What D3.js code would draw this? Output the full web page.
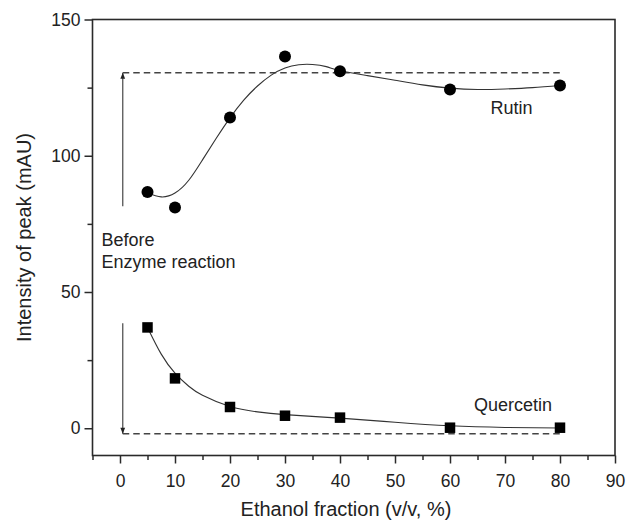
<!DOCTYPE html>
<html>
<head>
<meta charset="utf-8">
<script src="https://cdn.jsdelivr.net/npm/d3@7"></script>
<style>
  html, body { margin: 0; padding: 0; background: #fff; }
  svg { display: block; }
  text { font-family: "Liberation Sans", Arial, Helvetica, sans-serif; fill: #222; }
</style>
</head>
<body>
<svg id="chart" width="627" height="522"></svg>
<script>
// ---- Data ----
const ethanol = [5, 10, 20, 30, 40, 60, 80];
const rutin = [86.7, 81.0, 114.0, 136.4, 131.0, 124.3, 125.8];
const quercetin = [37.0, 18.3, 7.8, 4.6, 3.9, 0.2, 0.2];

// fitted curves
const rutinFitX = [5, 7.5, 10, 12.5, 15, 17.5, 20, 22.5, 25, 27.5, 30, 32.5, 35, 37.5, 40, 45, 50, 55, 60, 65, 70, 75, 80];
const rutinFitY = [86.3, 84.9, 86.3, 91.0, 98.5, 106.4, 113.9, 120.4, 125.6, 129.6, 132.2, 133.4, 133.5, 132.7, 131.2, 129.4, 127.7, 126.0, 124.8, 124.3, 124.5, 125.0, 125.8];
const quercetinFitX = [5, 7.5, 10, 12.5, 15, 20, 25, 30, 40, 50, 60, 70, 80];
const quercetinFitY = [37.0, 27.2, 20.2, 15.4, 12.1, 8.0, 6.0, 5.0, 3.7, 2.2, 0.9, 0.3, 0.1];

// "before enzyme reaction" reference levels
const rutinBefore = 130.5;
const quercetinBefore = -2.0;
const beforeRangeX = [0.5, 80];
const rutinArrowFromY = 81.5;
const quercetinArrowFromY = 38.5;

const xTicks = [0, 10, 20, 30, 40, 50, 60, 70, 80, 90];
const xMinorTicks = [-5, 5, 15, 25, 35, 45, 55, 65, 75, 85];
const yTicks = [0, 50, 100, 150];
const yMinorTicks = [25, 75, 125];

const xTitle = "Ethanol fraction (v/v, %)";
const yTitle = "Intensity of peak (mAU)";

// ---- Layout ----
const svg = d3.select("#chart");
const L = 92.5, R = 615, T = 19.5, B = 455.5;
const x = d3.scaleLinear().domain([-5, 90]).range([L, R]);
const y = d3.scaleLinear().domain([-10, 150]).range([B, T]);
const axisColor = "#2a2a2a";

// box
svg.append("rect").attr("x", L).attr("y", T).attr("width", R - L).attr("height", B - T)
  .attr("fill", "none").attr("stroke", axisColor).attr("stroke-width", 1.6);

// x axis
const gx = svg.append("g").attr("transform", `translate(0,${B})`)
  .call(d3.axisBottom(x).tickValues(xTicks).tickSize(8).tickPadding(11).tickFormat(d3.format("d")));
const gxm = svg.append("g").attr("transform", `translate(0,${B})`)
  .call(d3.axisBottom(x).tickValues(xMinorTicks).tickSize(4.5).tickFormat(""));
// y axis
const gy = svg.append("g").attr("transform", `translate(${L},0)`)
  .call(d3.axisLeft(y).tickValues(yTicks).tickSize(8).tickPadding(4).tickFormat(d3.format("d")));
const gym = svg.append("g").attr("transform", `translate(${L},0)`)
  .call(d3.axisLeft(y).tickValues(yMinorTicks).tickSize(5).tickFormat(""));

[gx, gxm, gy, gym].forEach(g => {
  g.select(".domain").remove();
  g.selectAll("line").attr("stroke", axisColor).attr("stroke-width", 1.5);
  g.selectAll("text").attr("font-family", "Liberation Sans, Arial, sans-serif")
    .attr("font-size", 17.5).attr("fill", "#222");
});

// axis titles
svg.append("text").attr("x", 346).attr("y", 516).attr("text-anchor", "middle")
  .attr("font-size", 20).text(xTitle);
svg.append("text").attr("transform", `translate(31,${(T + B) / 2}) rotate(-90)`)
  .attr("text-anchor", "middle").attr("font-size", 20).text(yTitle);

// arrow markers
const defs = svg.append("defs");
defs.append("marker").attr("id", "ah").attr("viewBox", "0 0 10 10")
  .attr("refX", 10).attr("refY", 5).attr("markerWidth", 7).attr("markerHeight", 6)
  .attr("markerUnits", "userSpaceOnUse").attr("orient", "auto")
  .append("path").attr("d", "M0,1 L10,5 L0,9 Z").attr("fill", "#222");

const dashColor = "#444";
// dashed "before" levels
[rutinBefore, quercetinBefore].forEach(v => {
  svg.append("line").attr("x1", x(beforeRangeX[0])).attr("x2", x(beforeRangeX[1]))
    .attr("y1", y(v)).attr("y2", y(v))
    .attr("stroke", dashColor).attr("stroke-width", 1.5).attr("stroke-dasharray", "6.5,4");
});
// arrows
svg.append("line").attr("x1", x(beforeRangeX[0])).attr("x2", x(beforeRangeX[0]))
  .attr("y1", y(rutinArrowFromY)).attr("y2", y(rutinBefore))
  .attr("stroke", "#555").attr("stroke-width", 1.3).attr("marker-end", "url(#ah)");
svg.append("line").attr("x1", x(beforeRangeX[0])).attr("x2", x(beforeRangeX[0]))
  .attr("y1", y(quercetinArrowFromY)).attr("y2", y(quercetinBefore))
  .attr("stroke", "#555").attr("stroke-width", 1.3).attr("marker-end", "url(#ah)");

// fit curves
const line = d3.line().x(d => x(d[0])).y(d => y(d[1])).curve(d3.curveNatural);
svg.append("path").attr("d", line(d3.zip(rutinFitX, rutinFitY)))
  .attr("fill", "none").attr("stroke", "#333").attr("stroke-width", 1.1);
svg.append("path").attr("d", line(d3.zip(quercetinFitX, quercetinFitY)))
  .attr("fill", "none").attr("stroke", "#333").attr("stroke-width", 1.1);

// markers
svg.selectAll("circle.rutin").data(d3.zip(ethanol, rutin)).join("circle")
  .attr("class", "rutin").attr("cx", d => x(d[0])).attr("cy", d => y(d[1])).attr("r", 6)
  .attr("fill", "#000");
const s = 10.5;
svg.selectAll("rect.quer").data(d3.zip(ethanol, quercetin)).join("rect")
  .attr("class", "quer").attr("x", d => x(d[0]) - s / 2).attr("y", d => y(d[1]) - s / 2)
  .attr("width", s).attr("height", s).attr("fill", "#000");

// labels
svg.append("text").attr("x", 490.5).attr("y", 114).attr("font-size", 18).text("Rutin");
svg.append("text").attr("x", 474).attr("y", 411).attr("font-size", 18).text("Quercetin");
svg.append("text").attr("x", 101.5).attr("y", 246).attr("font-size", 18).text("Before");
svg.append("text").attr("x", 101.5).attr("y", 268).attr("font-size", 18).text("Enzyme reaction");
</script>
</body>
</html>
